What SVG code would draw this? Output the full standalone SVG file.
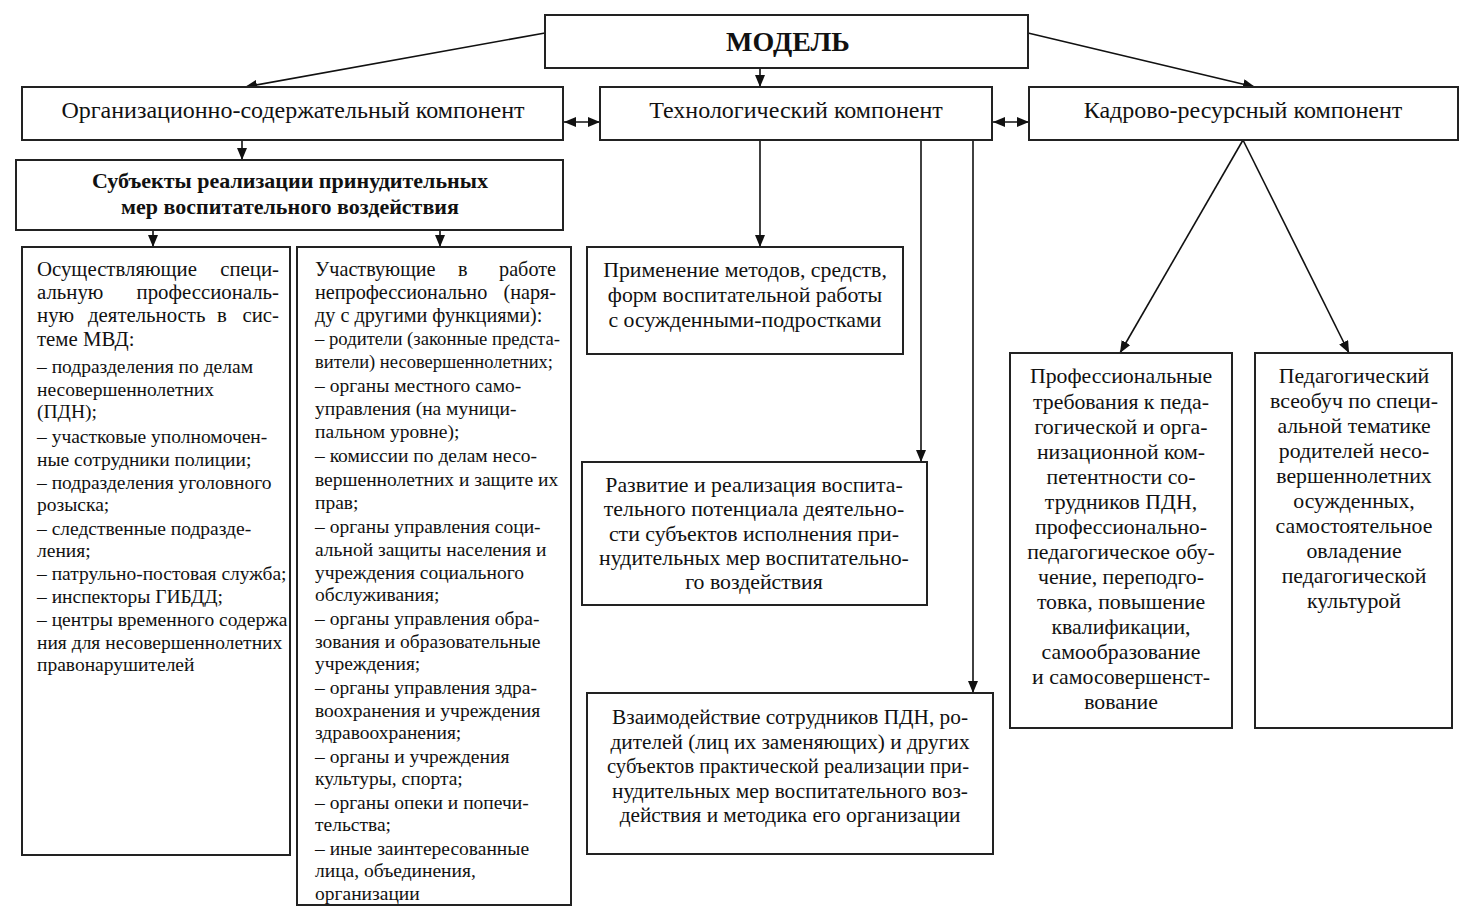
<svg xmlns="http://www.w3.org/2000/svg" width="1470" height="918" viewBox="0 0 1470 918">
<defs>
<style>
rect.b{fill:#fff;stroke:#222;stroke-width:2}
text{font-family:"Liberation Serif","Times New Roman",serif;fill:#111}
.h{font-size:24px}
.t{font-size:19.5px}
.t1{font-size:20.8px}
.t2{font-size:20.2px}
.m{font-size:21.8px}
.c{text-anchor:middle}
.e{text-anchor:end}
.bold{font-weight:bold}
.ln{stroke:#111;stroke-width:1.6;fill:none}
</style>
<marker id="ah" markerUnits="userSpaceOnUse" markerWidth="12" markerHeight="10" refX="12" refY="5" orient="auto-start-reverse">
<path d="M0,0 L12,5 L0,10 Z" fill="#111"/>
</marker>
</defs>
<rect width="1470" height="918" fill="#fff"/>

<g id="connectors">
<line class="ln" x1="545" y1="33" x2="245" y2="87" marker-end="url(#ah)"/>
<line class="ln" x1="760" y1="68" x2="760" y2="87" marker-end="url(#ah)"/>
<line class="ln" x1="1028" y1="33" x2="1255" y2="87" marker-end="url(#ah)"/>
<line class="ln" x1="564" y1="122" x2="600" y2="122" marker-start="url(#ah)" marker-end="url(#ah)"/>
<line class="ln" x1="993" y1="122" x2="1029" y2="122" marker-start="url(#ah)" marker-end="url(#ah)"/>
<line class="ln" x1="242" y1="140" x2="242" y2="160" marker-end="url(#ah)"/>
<line class="ln" x1="153" y1="230" x2="153" y2="247" marker-end="url(#ah)"/>
<line class="ln" x1="440" y1="230" x2="440" y2="247" marker-end="url(#ah)"/>
<line class="ln" x1="760" y1="140" x2="760" y2="247" marker-end="url(#ah)"/>
<line class="ln" x1="921" y1="140" x2="921" y2="462" marker-end="url(#ah)"/>
<line class="ln" x1="973" y1="140" x2="973" y2="693" marker-end="url(#ah)"/>
<line class="ln" x1="1243" y1="140" x2="1120" y2="353" marker-end="url(#ah)"/>
<line class="ln" x1="1243" y1="140" x2="1349" y2="353" marker-end="url(#ah)"/>
</g>

<g id="model">
<rect class="b" x="545" y="15" width="483" height="53"/>
<text class="c bold" x="788" y="51" style="font-size:28px">МОДЕЛЬ</text>
</g>

<g id="org">
<rect class="b" x="22" y="87" width="541" height="53"/>
<text class="h c" x="293" y="118">Организационно-содержательный компонент</text>
</g>

<g id="tech">
<rect class="b" x="600" y="87" width="392" height="53"/>
<text class="h c" x="796" y="118">Технологический компонент</text>
</g>

<g id="kadr">
<rect class="b" x="1029" y="87" width="429" height="53"/>
<text class="h c" x="1243" y="118">Кадрово-ресурсный компонент</text>
</g>

<g id="subjects">
<rect class="b" x="16" y="160" width="547" height="70"/>
<text class="c bold" style="font-size:22px" x="290" y="188">Субъекты реализации принудительных</text>
<text class="c bold" style="font-size:22px" x="290" y="214">мер воспитательного воздействия</text>
</g>

<g id="prof-subj">
<rect class="b" x="22" y="247" width="268" height="608"/>
<text class="t1" x="37" y="276">Осуществляющие</text><text class="t1 e" x="279" y="276">специ-</text>
<text class="t1" x="37" y="299">альную</text><text class="t1 e" x="279" y="299">профессиональ-</text>
<text class="t1" y="322"><tspan x="37">ную</tspan><tspan x="88">деятельность</tspan><tspan x="217">в</tspan></text><text class="t1 e" x="279" y="322">сис-</text>
<text class="t1" x="37" y="346">теме МВД:</text>
<text class="t" x="37" y="373">– подразделения по делам</text>
<text class="t" x="37" y="396">несовершеннолетних</text>
<text class="t" x="37" y="418">(ПДН);</text>
<text class="t" x="37" y="443">– участковые уполномочен-</text>
<text class="t" x="37" y="466">ные сотрудники полиции;</text>
<text class="t" x="37" y="489">– подразделения уголовного</text>
<text class="t" x="37" y="511">розыска;</text>
<text class="t" x="37" y="535">– следственные подразде-</text>
<text class="t" x="37" y="557">ления;</text>
<text class="t" x="37" y="580">– патрульно-постовая служба;</text>
<text class="t" x="37" y="603">– инспекторы ГИБДД;</text>
<text class="t" x="37" y="626">– центры временного содержа</text>
<text class="t" x="37" y="649">ния для несовершеннолетних</text>
<text class="t" x="37" y="671">правонарушителей</text>
</g>

<g id="nonprof-subj">
<rect class="b" x="297" y="247" width="274" height="658"/>
<text class="t2" y="276"><tspan x="315">Участвующие</tspan><tspan x="458">в</tspan></text><text class="t2 e" x="556" y="276">работе</text>
<text class="t2" x="315" y="299">непрофессионально</text><text class="t2 e" x="556" y="299">(наря-</text>
<text class="t2" x="315" y="322">ду с другими функциями):</text>
<text class="t" x="315" y="345" textLength="245" lengthAdjust="spacingAndGlyphs">– родители (законные предста-</text>
<text class="t" x="315" y="368" textLength="238" lengthAdjust="spacingAndGlyphs">вители) несовершеннолетних;</text>
<text class="t" x="315" y="392">– органы местного само-</text>
<text class="t" x="315" y="415">управления (на муници-</text>
<text class="t" x="315" y="438">пальном уровне);</text>
<text class="t" x="315" y="462">– комиссии по делам несо-</text>
<text class="t" x="315" y="486">вершеннолетних и защите их</text>
<text class="t" x="315" y="509">прав;</text>
<text class="t" x="315" y="533">– органы управления соци-</text>
<text class="t" x="315" y="556">альной защиты населения и</text>
<text class="t" x="315" y="579">учреждения социального</text>
<text class="t" x="315" y="601">обслуживания;</text>
<text class="t" x="315" y="625">– органы управления обра-</text>
<text class="t" x="315" y="648">зования и образовательные</text>
<text class="t" x="315" y="670">учреждения;</text>
<text class="t" x="315" y="694">– органы управления здра-</text>
<text class="t" x="315" y="717">воохранения и учреждения</text>
<text class="t" x="315" y="739">здравоохранения;</text>
<text class="t" x="315" y="763">– органы и учреждения</text>
<text class="t" x="315" y="785">культуры, спорта;</text>
<text class="t" x="315" y="809">– органы опеки и попечи-</text>
<text class="t" x="315" y="831">тельства;</text>
<text class="t" x="315" y="855">– иные заинтересованные</text>
<text class="t" x="315" y="877">лица, объединения,</text>
<text class="t" x="315" y="900">организации</text>
</g>

<g id="methods">
<rect class="b" x="587" y="247" width="316" height="107"/>
<text class="m c" x="745" y="277">Применение методов, средств,</text>
<text class="m c" x="745" y="302">форм воспитательной работы</text>
<text class="m c" x="745" y="327">с осужденными-подростками</text>
</g>

<g id="development">
<rect class="b" x="582" y="462" width="345" height="143"/>
<text class="m c" x="754" y="492">Развитие и реализация воспита-</text>
<text class="m c" x="754" y="516">тельного потенциала деятельно-</text>
<text class="m c" x="754" y="541">сти субъектов исполнения при-</text>
<text class="m c" x="754" y="565">нудительных мер воспитательно-</text>
<text class="m c" x="754" y="589">го воздействия</text>
</g>

<g id="interaction">
<rect class="b" x="587" y="693" width="406" height="161"/>
<text class="c" style="font-size:21.3px" x="790" y="724">Взаимодействие сотрудников ПДН, ро-</text>
<text class="c" style="font-size:21.3px" x="790" y="749">дителей (лиц их заменяющих) и других</text>
<text class="c" style="font-size:21.3px" x="788" y="773" textLength="362" lengthAdjust="spacingAndGlyphs">субъектов практической реализации при-</text>
<text class="c" style="font-size:21.3px" x="790" y="798">нудительных мер воспитательного воз-</text>
<text class="c" style="font-size:21.3px" x="790" y="822">действия и методика его организации</text>
</g>

<g id="prof-req">
<rect class="b" x="1010" y="353" width="222" height="375"/>
<text class="m c" x="1121" y="383">Профессиональные</text>
<text class="m c" x="1121" y="409">требования к педа-</text>
<text class="m c" x="1121" y="434">гогической и орга-</text>
<text class="m c" x="1121" y="459">низационной ком-</text>
<text class="m c" x="1121" y="484">петентности со-</text>
<text class="m c" x="1121" y="509">трудников ПДН,</text>
<text class="m c" x="1121" y="534">профессионально-</text>
<text class="m c" x="1121" y="559">педагогическое обу-</text>
<text class="m c" x="1121" y="584">чение, переподго-</text>
<text class="m c" x="1121" y="609">товка, повышение</text>
<text class="m c" x="1121" y="634">квалификации,</text>
<text class="m c" x="1121" y="659">самообразование</text>
<text class="m c" x="1121" y="684">и самосовершенст-</text>
<text class="m c" x="1121" y="709">вование</text>
</g>

<g id="ped">
<rect class="b" x="1255" y="353" width="197" height="375"/>
<text class="m c" x="1354" y="383">Педагогический</text>
<text class="m c" x="1354" y="408">всеобуч по специ-</text>
<text class="m c" x="1354" y="433">альной тематике</text>
<text class="m c" x="1354" y="458">родителей несо-</text>
<text class="m c" x="1354" y="483">вершеннолетних</text>
<text class="m c" x="1354" y="508">осужденных,</text>
<text class="m c" x="1354" y="533">самостоятельное</text>
<text class="m c" x="1354" y="558">овладение</text>
<text class="m c" x="1354" y="583">педагогической</text>
<text class="m c" x="1354" y="608">культурой</text>
</g>
</svg>
